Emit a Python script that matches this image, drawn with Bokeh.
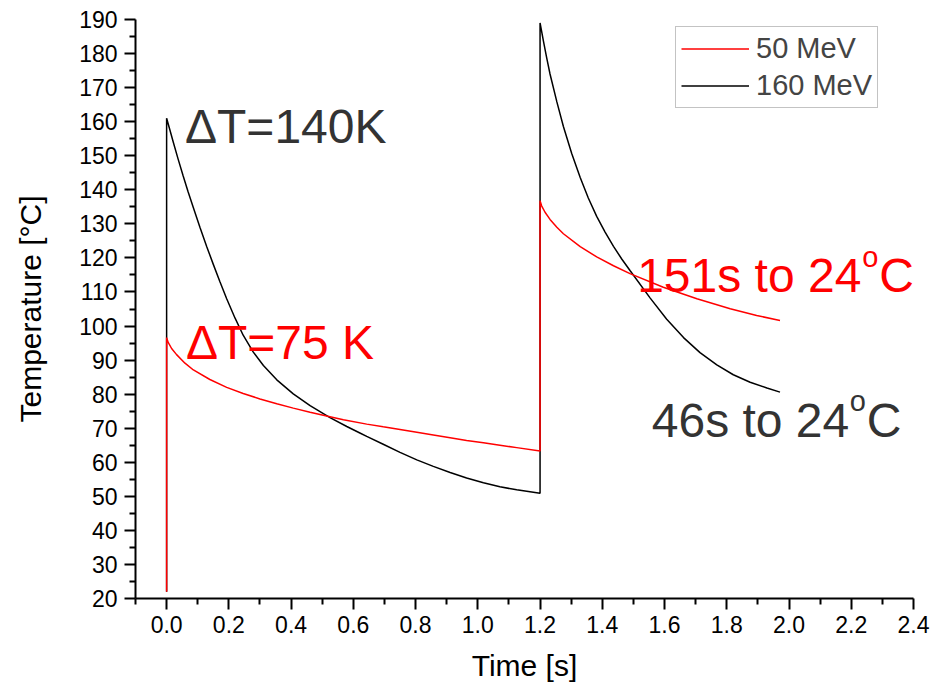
from bokeh.plotting import figure
from bokeh.models import FixedTicker, Label, Legend, LegendItem, Range1d, PrintfTickFormatter
from bokeh.embed import file_html
from bokeh.resources import INLINE

# ---- data ----
t_160 = [0.0, 0.0, 0.011, 0.021, 0.037, 0.053, 0.069, 0.086, 0.107, 0.129, 0.150, 0.171,
         0.193, 0.220, 0.246, 0.278, 0.311, 0.354, 0.407, 0.461, 0.525, 0.579, 0.621,
         0.643, 0.696, 0.750, 0.804, 0.857, 0.911, 0.964, 1.018, 1.071, 1.125, 1.2,
         1.2, 1.211, 1.221, 1.232, 1.254, 1.275, 1.302, 1.329, 1.355, 1.382, 1.409,
         1.436, 1.463, 1.489, 1.554, 1.607, 1.661, 1.714, 1.768, 1.821, 1.875, 1.929, 1.971]
T_160 = [22.0, 161.0, 157.4, 154.1, 149.0, 144.1, 139.4, 134.7, 129.0, 123.3, 118.1, 113.1,
         108.0, 102.3, 97.3, 92.4, 88.4, 84.2, 80.1, 76.6, 73.1, 70.5, 68.6,
         67.6, 65.3, 62.9, 60.7, 58.8, 57.0, 55.4, 54.0, 52.8, 51.9, 50.9,
         189.0, 183.6, 178.9, 174.0, 165.8, 158.6, 150.6, 143.6, 137.6, 132.2, 127.6,
         123.4, 119.6, 116.3, 108.2, 102.0, 96.6, 92.2, 88.6, 85.7, 83.5, 81.8, 80.6]

t_50 = [0.0, 0.0, 0.005, 0.016, 0.032, 0.059, 0.086, 0.139, 0.193, 0.246, 0.300, 0.354,
        0.407, 0.461, 0.514, 0.568, 0.643, 0.696, 0.750, 0.804, 0.857, 0.911, 0.964,
        1.018, 1.071, 1.125, 1.2, 1.2, 1.205, 1.216, 1.232, 1.254, 1.275, 1.329, 1.382,
        1.436, 1.489, 1.596, 1.704, 1.811, 1.896, 1.971]
T_50 = [22.0, 96.6, 95.2, 93.4, 91.6, 89.1, 87.1, 84.3, 82.0, 80.2, 78.6, 77.2,
        75.9, 74.7, 73.6, 72.5, 71.2, 70.4, 69.6, 68.8, 68.0, 67.2, 66.4,
        65.7, 65.0, 64.3, 63.3, 136.8, 135.3, 133.4, 131.3, 129.0, 127.1, 123.3, 120.3,
        117.7, 115.4, 111.4, 108.0, 105.1, 103.1, 101.6]

series_labels = ["50 MeV", "160 MeV"]
x_major = [0.0, 0.2, 0.4, 0.6, 0.8, 1.0, 1.2, 1.4, 1.6, 1.8, 2.0, 2.2, 2.4]
x_minor = [-0.1, 0.1, 0.3, 0.5, 0.7, 0.9, 1.1, 1.3, 1.5, 1.7, 1.9, 2.1, 2.3]
y_major = list(range(20, 191, 10))
y_minor = list(range(25, 190, 10))

FONT = "Liberation Sans"
DARK = "#333333"

p = figure(width=935, height=689, output_backend="svg", toolbar_location=None,
           x_range=Range1d(-0.1, 2.4), y_range=Range1d(20, 190),
           min_border_left=135, min_border_right=22, min_border_top=19,
           min_border_bottom=91, background_fill_color="white",
           border_fill_color="white", outline_line_color=None)
p.xgrid.visible = False
p.ygrid.visible = False

r_black = p.line(t_160, T_160, line_color="#000000", line_width=1.5)
r_red = p.line(t_50, T_50, line_color="#ff0000", line_width=1.5)

for ax, maj, mnr in ((p.xaxis[0], x_major, x_minor), (p.yaxis[0], y_major, y_minor)):
    ax.ticker = FixedTicker(ticks=maj, minor_ticks=mnr)
    ax.axis_line_width = 2
    ax.axis_line_color = "black"
    ax.major_tick_line_width = 2
    ax.minor_tick_line_width = 2
    ax.major_tick_in = 0
    ax.minor_tick_in = 0
    ax.major_tick_out = 11
    ax.minor_tick_out = 6
    ax.major_label_text_font = FONT
    ax.major_label_text_font_size = "23px"
    ax.major_label_text_color = "black"
    ax.axis_label_text_font = FONT
    ax.axis_label_text_font_size = "30px"
    ax.axis_label_text_font_style = "normal"
    ax.axis_label_text_color = "black"

p.xaxis[0].formatter = PrintfTickFormatter(format="%.1f")
p.xaxis[0].major_label_standoff = 6
p.xaxis[0].axis_label = "Time [s]"
p.xaxis[0].axis_label_standoff = 13
p.yaxis[0].major_label_standoff = 7
p.yaxis[0].axis_label = "Temperature [°C]"
p.yaxis[0].axis_label_standoff = 29

legend = Legend(items=[LegendItem(label=series_labels[0], renderers=[r_red]),
                       LegendItem(label=series_labels[1], renderers=[r_black])],
                location=(540, 490), label_text_font=FONT, label_text_font_size="29px",
                glyph_width=68, glyph_height=33, label_height=33, label_standoff=7,
                spacing=4, padding=5, margin=0, border_line_color="#888888",
                border_line_width=1.5, background_fill_color="white",
                background_fill_alpha=1.0)
p.add_layout(legend)

def lab(x, y, text, color, size="48px", xo=0, yo=0):
    p.add_layout(Label(x=x, y=y, text=text, text_color=color, text_font=FONT,
                       text_font_size=size, text_baseline="alphabetic",
                       x_offset=xo, y_offset=yo))

lab(0.059, 158.6, "ΔT=140K", DARK)
lab(0.062, 95.2, "ΔT=75 K", "#ff0000")

lab(1.512, 114.8, "151s to 24", "#ff0000")
lab(1.512, 114.8, "o", "#ff0000", size="29px", xo=225, yo=19)
lab(1.512, 114.8, "C", "#ff0000", xo=242)

lab(1.559, 72.3, "46s to 24", DARK)
lab(1.559, 72.3, "o", DARK, size="29px", xo=198, yo=19)
lab(1.559, 72.3, "C", DARK, xo=215)

open("out.html", "w").write(file_html(p, INLINE))
